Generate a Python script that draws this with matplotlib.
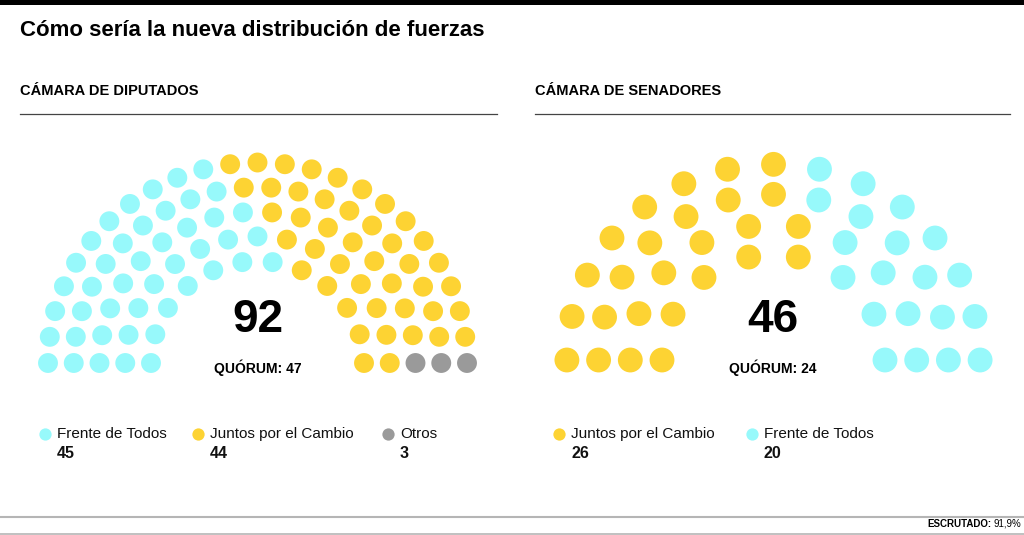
import numpy as np
import matplotlib.pyplot as plt
from matplotlib.patches import Rectangle

plt.rcParams['font.family'] = ['Liberation Sans', 'DejaVu Sans']

# =================================================================
# DATOS
# =================================================================
CIAN = '#97f9fb'
AMARILLO = '#fdd333'
GRIS = '#9a9a9a'

TITULO = "Cómo sería la nueva distribución de fuerzas"

# Cámara de Diputados
dip_partidos = ["Frente de Todos", "Juntos por el Cambio", "Otros"]
dip_bancas = [45, 44, 3]
dip_colores = [CIAN, AMARILLO, GRIS]
dip_filas = [12, 15, 18, 22, 25]          # bancas por fila, de adentro hacia afuera
dip_reparto = [[7, 8, 9, 10, 11],          # Frente de Todos
               [5, 7, 8, 11, 13],          # Juntos por el Cambio
               [0, 0, 1, 1, 1]]            # Otros

# Cámara de Senadores
sen_partidos = ["Juntos por el Cambio", "Frente de Todos"]
sen_bancas = [26, 20]
sen_colores = [AMARILLO, CIAN]
sen_filas = [8, 10, 13, 15]
sen_reparto = [[5, 6, 7, 8],               # Juntos por el Cambio
               [3, 4, 6, 7]]               # Frente de Todos

ESCRUTADO = "91,9%"


# =================================================================
# FUNCIONES
# =================================================================
def hemiciclo(ax, cx, cy, r0, paso, ky, filas, reparto, colores, size):
    for i, n in enumerate(filas):
        r = r0 + i * paso
        ang = np.linspace(np.pi, 0, n)
        x = cx + r * np.cos(ang)
        y = cy - ky * r * np.sin(ang)
        cols = []
        for col, cant in zip(colores, reparto):
            cols += [col] * cant[i]
        ax.scatter(x, y, s=size, c=cols, linewidths=0, zorder=3)


def leyenda(ax, x0s, partidos, bancas, colores, y=434):
    for x0, p, b, c in zip(x0s, partidos, bancas, colores):
        ax.scatter([x0], [y], s=78, c=c, linewidths=0)
        ax.text(x0 + 12, y, p, fontsize=11, va='center', ha='left', color='#111')
        ax.text(x0 + 12, y + 19, str(b), fontsize=11.5, fontweight='bold',
                va='center', ha='left', color='#111')


def camara(ax, x0, x1, nombre, cx, total):
    ax.text(x0, 91, nombre, fontsize=10.5, fontweight='bold', va='center', ha='left')
    ax.plot([x0, x1], [114, 114], color='#444444', lw=0.9)
    ax.text(cx, 320, str(total), fontsize=33, fontweight='bold', va='center', ha='center')
    ax.text(cx, 368, f"QUÓRUM: {total // 2 + 1}", fontsize=10, fontweight='bold',
            va='center', ha='center')


# =================================================================
# FIGURA
# =================================================================
fig = plt.figure(figsize=(10.24, 5.35), dpi=100)
ax = fig.add_axes([0, 0, 1, 1])
ax.set_xlim(0, 1024)
ax.set_ylim(535, 0)
ax.axis('off')

ax.add_patch(Rectangle((0, 0), 1024, 5, color='black', lw=0))
ax.text(20, 31, TITULO, fontsize=16, fontweight='bold', va='center', ha='left')

# Diputados
camara(ax, 20, 497, "CÁMARA DE DIPUTADOS", 258, sum(dip_bancas))
hemiciclo(ax, 257.5, 363, 106.5, 25.75, 0.957, dip_filas, dip_reparto, dip_colores, 205)
leyenda(ax, [45, 198, 388], dip_partidos, dip_bancas, dip_colores)

# Senadores
camara(ax, 535, 1010, "CÁMARA DE SENADORES", 773, sum(sen_bancas))
hemiciclo(ax, 773.5, 360, 111.5, 31.7, 0.947, sen_filas, sen_reparto, sen_colores, 320)
leyenda(ax, [559, 752], sen_partidos, sen_bancas, sen_colores)

# Pie
ax.plot([0, 1024], [517, 517], color='#b5b5b5', lw=1.5)
ax.plot([0, 1024], [533.5, 533.5], color='#b5b5b5', lw=1.2)
ax.text(992, 524, "ESCRUTADO:", fontsize=7, fontweight='bold', va='center', ha='right')
ax.text(994, 524, ESCRUTADO, fontsize=7, va='center', ha='left')

fig.savefig('out.png', dpi=100)
